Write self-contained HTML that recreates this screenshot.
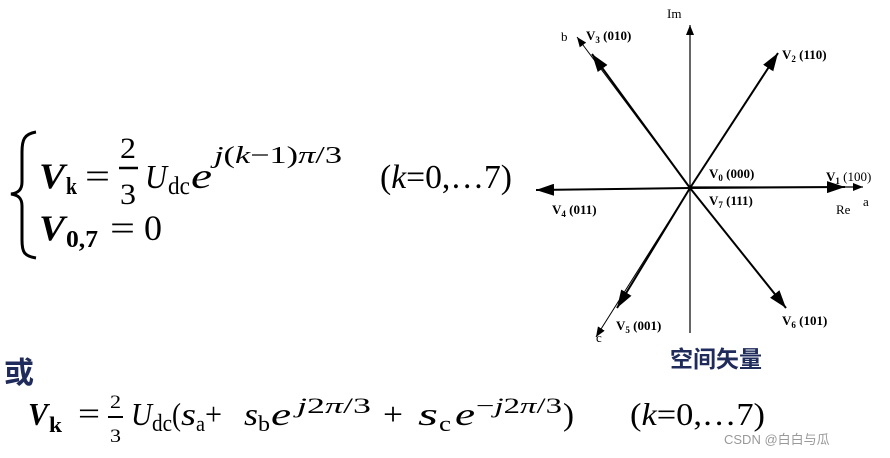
<!DOCTYPE html>
<html><head><meta charset="utf-8"><style>
html,body{margin:0;padding:0;background:#fff;}
svg{display:block}
.t{font-family:"Liberation Serif",serif;}
.b{font-weight:bold}
</style></head><body>
<svg width="890" height="458" viewBox="0 0 890 458" xmlns="http://www.w3.org/2000/svg">
<defs>
<marker id="ah" markerWidth="10" markerHeight="8" refX="10" refY="4" orient="auto" markerUnits="userSpaceOnUse" viewBox="0 0 10 8">
<path d="M0,0 L10,4 L0,8 z" fill="#000"/></marker>
<marker id="big" markerWidth="18" markerHeight="12" refX="18" refY="6" orient="auto" markerUnits="userSpaceOnUse" viewBox="0 0 18 12">
<path d="M0,0 L18,6 L0,12 z" fill="#000"/></marker>
</defs>
<!-- axes -->
<line x1="690" y1="333" x2="690" y2="25" stroke="#000" stroke-width="1.2" marker-end="url(#ah)"/>
<line x1="690" y1="187" x2="863" y2="187" stroke="#000" stroke-width="1.2" marker-end="url(#ah)"/>
<line x1="690" y1="188" x2="577" y2="37" stroke="#000" stroke-width="1" marker-end="url(#ah)"/>
<line x1="690" y1="188" x2="596" y2="337" stroke="#000" stroke-width="1" marker-end="url(#ah)"/>
<!-- vectors -->
<line x1="690" y1="188" x2="845" y2="187" stroke="#000" stroke-width="2" marker-end="url(#big)"/>
<line x1="690" y1="188" x2="536" y2="190" stroke="#000" stroke-width="2" marker-end="url(#big)"/>
<line x1="690" y1="188" x2="778" y2="53" stroke="#000" stroke-width="2" marker-end="url(#big)"/>
<line x1="690" y1="188" x2="592" y2="54" stroke="#000" stroke-width="2" marker-end="url(#big)"/>
<line x1="690" y1="188" x2="617" y2="308" stroke="#000" stroke-width="2" marker-end="url(#big)"/>
<line x1="690" y1="188" x2="786" y2="308" stroke="#000" stroke-width="2" marker-end="url(#big)"/>
<!-- labels -->
<g class="t" font-size="13">
<text x="667" y="18">Im</text>
<text x="561" y="41">b</text>
<text x="596" y="342">c</text>
<text x="836" y="214">Re</text>
<text x="863" y="206">a</text>
</g>
<g class="t b" font-size="13">
<text x="586" y="40">V<tspan font-size="9" dy="3">3</tspan><tspan dy="-3"> (010)</tspan></text>
<text x="782" y="59">V<tspan font-size="9" dy="3">2</tspan><tspan dy="-3"> (110)</tspan></text>
<text x="709" y="178">V<tspan font-size="9" dy="3">0</tspan><tspan dy="-3"> (000)</tspan></text>
<text x="826" y="181">V<tspan font-size="9" dy="3">1</tspan><tspan dy="-3" font-weight="normal"> (100)</tspan></text>
<text x="709" y="205">V<tspan font-size="9" dy="3">7</tspan><tspan dy="-3"> (111)</tspan></text>
<text x="552" y="214">V<tspan font-size="9" dy="3">4</tspan><tspan dy="-3"> (011)</tspan></text>
<text x="616" y="330">V<tspan font-size="9" dy="3">5</tspan><tspan dy="-3"> (001)</tspan></text>
<text x="782" y="325">V<tspan font-size="9" dy="3">6</tspan><tspan dy="-3"> (101)</tspan></text>
</g>
<text x="670" y="367" font-family="'Noto Sans CJK SC',sans-serif" font-weight="bold" font-size="23" fill="#1f2b5a">空间矢量</text>
<!-- brace -->
<path d="M36,132 C24,134 22,140 22,152 L22,182 C22,190 18,193 11,194 C18,195 22,198 22,206 L22,240 C22,252 24,256 36,258" fill="none" stroke="#000" stroke-width="3"/>
<!-- first formula -->
<g class="t">
<text x="39" y="188" font-size="36" font-weight="bold" font-style="italic" textLength="26" lengthAdjust="spacingAndGlyphs">V</text>
<text x="66" y="194" font-size="24" font-weight="bold" textLength="11" lengthAdjust="spacingAndGlyphs">k</text>
<text x="85" y="188" font-size="36" textLength="25" lengthAdjust="spacingAndGlyphs">=</text>
<text x="120" y="158" font-size="30" textLength="16" lengthAdjust="spacingAndGlyphs">2</text>
<line x1="119" y1="168" x2="138" y2="168" stroke="#000" stroke-width="2.5"/>
<text x="120" y="204" font-size="30" textLength="16" lengthAdjust="spacingAndGlyphs">3</text>
<text x="145" y="188" font-size="34" font-style="italic" textLength="22" lengthAdjust="spacingAndGlyphs">U</text>
<text x="168" y="194" font-size="25" textLength="22" lengthAdjust="spacingAndGlyphs">dc</text>
<text x="191" y="188" font-size="36" font-style="italic" textLength="21" lengthAdjust="spacingAndGlyphs">e</text>
<text x="214" y="163" font-size="24" font-style="italic" textLength="128" lengthAdjust="spacingAndGlyphs">j<tspan font-style="normal">(</tspan>k<tspan font-style="normal">−1)</tspan>π<tspan font-style="normal">/3</tspan></text>
<text x="380" y="188" font-size="34" textLength="132" lengthAdjust="spacingAndGlyphs">(<tspan font-style="italic">k</tspan>=0,…7)</text>
<text x="39" y="240" font-size="36" font-weight="bold" font-style="italic" textLength="26" lengthAdjust="spacingAndGlyphs">V</text>
<text x="66" y="247" font-size="24" font-weight="bold" textLength="32" lengthAdjust="spacingAndGlyphs">0,7</text>
<text x="110" y="240" font-size="36" textLength="25" lengthAdjust="spacingAndGlyphs">=</text>
<text x="144" y="240" font-size="36" textLength="18" lengthAdjust="spacingAndGlyphs">0</text>
</g>
<!-- 或 -->
<text x="4" y="383" font-family="'Noto Sans CJK SC',sans-serif" font-weight="bold" font-size="30" fill="#1f2b5a">或</text>
<!-- bottom formula -->
<g class="t">
<text x="28" y="425" font-size="32" font-weight="bold" font-style="italic" textLength="20" lengthAdjust="spacingAndGlyphs">V</text>
<text x="49" y="432" font-size="22" font-weight="bold" textLength="13" lengthAdjust="spacingAndGlyphs">k</text>
<text x="78" y="424" font-size="32" textLength="22" lengthAdjust="spacingAndGlyphs">=</text>
<text x="110" y="408" font-size="19" textLength="11" lengthAdjust="spacingAndGlyphs">2</text>
<line x1="108" y1="417" x2="123" y2="417" stroke="#000" stroke-width="2"/>
<text x="110" y="442" font-size="19" textLength="11" lengthAdjust="spacingAndGlyphs">3</text>
<text x="131" y="425" font-size="32" font-style="italic" textLength="21" lengthAdjust="spacingAndGlyphs">U</text>
<text x="152" y="431" font-size="24" textLength="20" lengthAdjust="spacingAndGlyphs">dc</text>
<text x="172" y="425" font-size="32" textLength="9" lengthAdjust="spacingAndGlyphs">(</text>
<text x="181" y="425" font-size="32" font-style="italic" textLength="15" lengthAdjust="spacingAndGlyphs">s</text>
<text x="196" y="431" font-size="22" textLength="9" lengthAdjust="spacingAndGlyphs">a</text>
<text x="205" y="425" font-size="32" textLength="17" lengthAdjust="spacingAndGlyphs">+</text>
<text x="244" y="425" font-size="32" font-style="italic" textLength="14" lengthAdjust="spacingAndGlyphs">s</text>
<text x="258" y="431" font-size="22" textLength="12" lengthAdjust="spacingAndGlyphs">b</text>
<text x="271" y="425" font-size="32" font-style="italic" textLength="20" lengthAdjust="spacingAndGlyphs">e</text>
<text x="297" y="413" font-size="22" font-style="italic" textLength="74" lengthAdjust="spacingAndGlyphs">j<tspan font-style="normal">2</tspan>π<tspan font-style="normal">/3</tspan></text>
<text x="383" y="425" font-size="32" textLength="20" lengthAdjust="spacingAndGlyphs">+</text>
<text x="418" y="425" font-size="32" font-style="italic" textLength="20" lengthAdjust="spacingAndGlyphs">s</text>
<text x="439" y="431" font-size="22" textLength="12" lengthAdjust="spacingAndGlyphs">c</text>
<text x="455" y="425" font-size="32" font-style="italic" textLength="20" lengthAdjust="spacingAndGlyphs">e</text>
<text x="476" y="413" font-size="22" font-style="italic" textLength="86" lengthAdjust="spacingAndGlyphs"><tspan font-style="normal">−</tspan>j<tspan font-style="normal">2</tspan>π<tspan font-style="normal">/3</tspan></text>
<text x="563" y="425" font-size="32" textLength="11" lengthAdjust="spacingAndGlyphs">)</text>
<text x="630" y="425" font-size="32" textLength="135" lengthAdjust="spacingAndGlyphs">(<tspan font-style="italic">k</tspan>=0,…7)</text>
</g>
<text x="724" y="444" font-family="'Liberation Sans','Noto Sans CJK SC',sans-serif" font-size="13" fill="#999">CSDN @白白与瓜</text>
</svg>
</body></html>
